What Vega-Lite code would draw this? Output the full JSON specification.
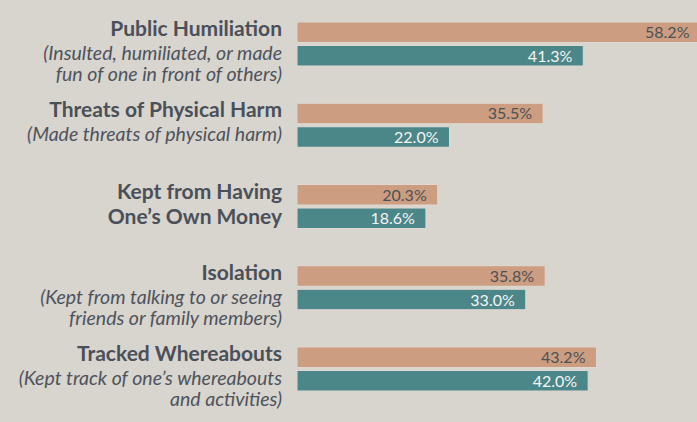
{
  "$schema": "https://vega.github.io/schema/vega-lite/v6.json",
  "width": 400,
  "height": 369,
  "autosize": "none",
  "padding": {"left": 297, "top": 22, "right": 0, "bottom": 31},
  "background": "#d8d4ce",
  "config": {"view": {"stroke": null}},
  "datasets": {
    "bars": [
      {"category": "Public Humiliation", "series": "first", "value": 0.582},
      {"category": "Public Humiliation", "series": "second", "value": 0.413},
      {"category": "Threats of Physical Harm", "series": "first", "value": 0.355},
      {"category": "Threats of Physical Harm", "series": "second", "value": 0.220},
      {"category": "Kept from Having One’s Own Money", "series": "first", "value": 0.203},
      {"category": "Kept from Having One’s Own Money", "series": "second", "value": 0.186},
      {"category": "Isolation", "series": "first", "value": 0.358},
      {"category": "Isolation", "series": "second", "value": 0.330},
      {"category": "Tracked Whereabouts", "series": "first", "value": 0.432},
      {"category": "Tracked Whereabouts", "series": "second", "value": 0.420}
    ],
    "labels": [
      {"category": "Public Humiliation", "title": "Public Humiliation", "sub": "(Insulted, humiliated, or made\nfun of one in front of others)"},
      {"category": "Threats of Physical Harm", "title": "Threats of Physical Harm", "sub": "(Made threats of physical harm)"},
      {"category": "Kept from Having One’s Own Money", "title": "Kept from Having\nOne’s Own Money", "sub": ""},
      {"category": "Isolation", "title": "Isolation", "sub": "(Kept from talking to or seeing\nfriends or family members)"},
      {"category": "Tracked Whereabouts", "title": "Tracked Whereabouts", "sub": "(Kept track of one’s whereabouts\nand activities)"}
    ]
  },
  "layer": [
    {
      "data": {"name": "bars"},
      "mark": {"type": "bar", "stroke": "#e0d9d1", "strokeWidth": 1, "clip": true},
      "encoding": {
        "y": {"field": "category", "type": "nominal", "sort": ["Public Humiliation", "Threats of Physical Harm", "Kept from Having One’s Own Money", "Isolation", "Tracked Whereabouts"], "scale": {"paddingInner": 0.4585, "paddingOuter": 0}, "axis": null},
        "yOffset": {"field": "series", "type": "nominal", "sort": ["first", "second"], "scale": {"paddingInner": 0.128, "paddingOuter": 0}},
        "x": {"field": "value", "type": "quantitative", "scale": {"domain": [0, 0.577], "nice": false, "zero": true}, "axis": null},
        "color": {"field": "series", "type": "nominal", "scale": {"domain": ["first", "second"], "range": ["#cc9d80", "#4b8688"]}, "legend": null}
      }
    },
    {
      "data": {"name": "bars"},
      "mark": {"type": "text", "align": "right", "baseline": "middle", "dx": -11, "dy": 1, "font": "Lato", "fontSize": 16},
      "encoding": {
        "y": {"field": "category", "type": "nominal", "sort": ["Public Humiliation", "Threats of Physical Harm", "Kept from Having One’s Own Money", "Isolation", "Tracked Whereabouts"]},
        "yOffset": {"field": "series", "type": "nominal", "sort": ["first", "second"]},
        "x": {"field": "value", "type": "quantitative"},
        "text": {"field": "value", "type": "quantitative", "format": ".1%"},
        "color": {"condition": {"test": "datum.series === 'first'", "value": "#4c5157"}, "value": "#f5f5f3"}
      }
    },
    {
      "data": {"name": "labels"},
      "mark": {"type": "text", "align": "right", "baseline": "alphabetic", "dx": -15, "dy": -8, "font": "Lato", "fontWeight": "bold", "fontSize": 21, "lineBreak": "\n", "lineHeight": 25, "color": "#4a5059"},
      "encoding": {
        "y": {"field": "category", "type": "nominal", "sort": ["Public Humiliation", "Threats of Physical Harm", "Kept from Having One’s Own Money", "Isolation", "Tracked Whereabouts"]},
        "x": {"datum": 0},
        "text": {"field": "title"}
      }
    },
    {
      "data": {"name": "labels"},
      "mark": {"type": "text", "align": "right", "baseline": "alphabetic", "dx": -15, "dy": 16, "font": "Lato", "fontStyle": "italic", "fontSize": 19.5, "lineBreak": "\n", "lineHeight": 21, "color": "#4d535c"},
      "encoding": {
        "y": {"field": "category", "type": "nominal", "sort": ["Public Humiliation", "Threats of Physical Harm", "Kept from Having One’s Own Money", "Isolation", "Tracked Whereabouts"]},
        "x": {"datum": 0},
        "text": {"field": "sub"}
      }
    }
  ]
}
